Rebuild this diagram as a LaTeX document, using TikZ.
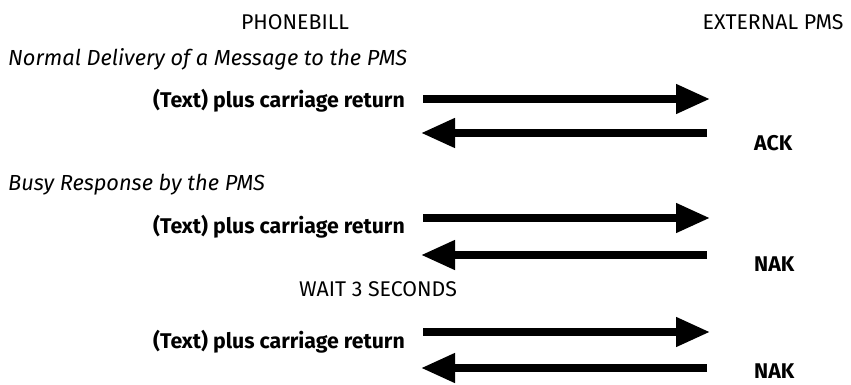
\documentclass[tikz,border=0pt]{standalone}
\usepackage{fontspec}
\setmainfont{Fira Sans}
\usepackage{tikz}
\usetikzlibrary{arrows.meta}

\begin{document}
\begin{tikzpicture}[x=1pt, y=-1pt,
        msg/.style = {line width = 7.5pt, -{Triangle[length = 34pt, width = 28pt]}},
        lbl/.style = {font = \fontsize{21.3}{24}\selectfont\bfseries, inner sep = 0pt},
        hd/.style = {font = \fontsize{21.3}{24}\selectfont, inner sep = 0pt},
        sect/.style = {font = \fontsize{21.8}{24}\selectfont\itshape, inner sep = 0pt, anchor = west}]
        \useasboundingbox (0, 0) rectangle (851, 385);

        \node[hd] (phonebill) at (295, 22) {PHONEBILL};
        \node[hd] (pms) at (773, 22) {EXTERNAL PMS};

        \node[sect] (normal) at (8, 59) {Normal Delivery of a Message to the PMS};
        \node[sect] (busy) at (8, 185) {Busy Response by the PMS};

        \node[lbl, anchor = east] (text1) at (405, 101) {(Text) plus carriage return};
        \node[lbl, anchor = west] (ack) at (754, 143) {ACK};
        \node[lbl, anchor = east] (text2) at (405, 227) {(Text) plus carriage return};
        \node[lbl, anchor = west] (nak1) at (754, 264) {NAK};
        \node[hd] (wait) at (378, 289) {WAIT 3 SECONDS};
        \node[lbl, anchor = east] (text3) at (405, 342) {(Text) plus carriage return};
        \node[lbl, anchor = west] (nak2) at (754, 371) {NAK};

        \coordinate (out1) at (423, 99);  \coordinate (in1) at (710, 99);
        \coordinate (back1) at (707, 133); \coordinate (ret1) at (421, 133);
        \coordinate (out2) at (423, 218); \coordinate (in2) at (710, 218);
        \coordinate (back2) at (707, 255); \coordinate (ret2) at (421, 255);
        \coordinate (out3) at (423, 332); \coordinate (in3) at (710, 332);
        \coordinate (back3) at (707, 368); \coordinate (ret3) at (421, 368);

        \draw[msg] (out1) -- (in1);
        \draw[msg] (back1) -- (ret1);
        \draw[msg] (out2) -- (in2);
        \draw[msg] (back2) -- (ret2);
        \draw[msg] (out3) -- (in3);
        \draw[msg] (back3) -- (ret3);
    \end{tikzpicture}
\end{document}
